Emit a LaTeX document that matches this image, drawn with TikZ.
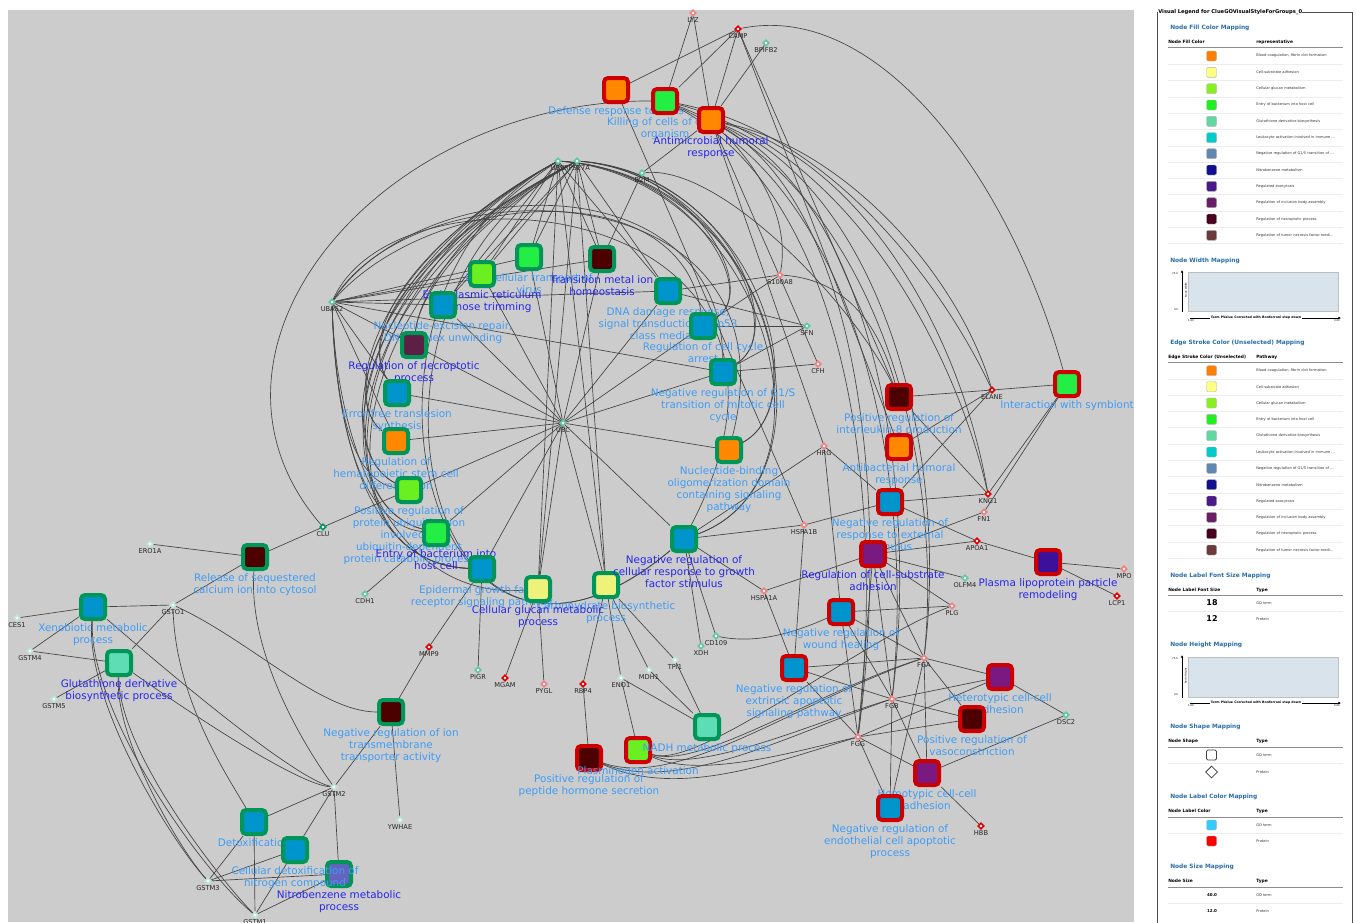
\documentclass[tikz,border=0pt]{standalone}
\usepackage{fontspec}
\setmainfont{DejaVu Sans}
\usetikzlibrary{shapes.geometric,arrows.meta}
\definecolor{bgc}{HTML}{CCCCCC}
\definecolor{edgec}{HTML}{444444}
\definecolor{gob}{HTML}{00965A}
\definecolor{gor}{HTML}{CC0000}
\definecolor{lblue}{HTML}{3F9CF5}
\definecolor{dblue}{HTML}{2626EE}
\definecolor{cOr}{HTML}{FF8800}
\definecolor{cGr}{HTML}{22EE44}
\definecolor{cLi}{HTML}{6AF020}
\definecolor{cDr}{HTML}{4D0000}
\definecolor{cBl}{HTML}{0094CC}
\definecolor{cNe}{HTML}{5E1F45}
\definecolor{cYe}{HTML}{EEF27A}
\definecolor{cPu}{HTML}{7A1A80}
\definecolor{cPl}{HTML}{3C1199}
\definecolor{cMi}{HTML}{5EDDB5}
\definecolor{cNb}{HTML}{6464BE}
\definecolor{pG}{HTML}{5FC8A0}
\definecolor{pW}{HTML}{BFE6D6}
\definecolor{pR}{HTML}{DD0000}
\definecolor{pP}{HTML}{F08080}
\definecolor{pD}{HTML}{009966}
\definecolor{legt}{HTML}{2A6EAA}
\definecolor{chartc}{HTML}{D9E3EC}
\definecolor{lc1}{HTML}{FF8000}
\definecolor{lc2}{HTML}{FFFF80}
\definecolor{lc3}{HTML}{88F020}
\definecolor{lc4}{HTML}{20F020}
\definecolor{lc5}{HTML}{60D8A0}
\definecolor{lc6}{HTML}{00CCCC}
\definecolor{lc7}{HTML}{6088B0}
\definecolor{lc8}{HTML}{101090}
\definecolor{lc9}{HTML}{4B1A88}
\definecolor{lc10}{HTML}{6A1E66}
\definecolor{lc11}{HTML}{4A0020}
\definecolor{lc12}{HTML}{6B3A3A}
\definecolor{lcgo}{HTML}{33CCFF}
\definecolor{lcpr}{HTML}{FF0000}

\pgfdeclarelayer{bg}\pgfdeclarelayer{edges}
\pgfsetlayers{bg,edges,main}

\tikzset{
 gobox/.style={rectangle,rounded corners=3pt,minimum size=18pt,line width=3pt,inner sep=0pt},
 golab/.style={anchor=north,inner sep=0pt,align=center,font=\fontsize{7.8}{9}\selectfont,execute at begin node=\strut},
 pnode/.style={diamond,aspect=1,minimum size=4.6pt,inner sep=0pt,line width=1.2pt,fill=white},
 plab/.style={anchor=north,inner sep=0pt,font=\fontsize{5}{6}\selectfont,text=black!85,execute at begin node=\strut},
 lnk/.style={draw=edgec,line width=0.5pt},
 lsec/.style={anchor=west,inner sep=0pt,text=legt,font=\bfseries\fontsize{4.4}{5}\selectfont},
 lhead/.style={anchor=west,inner sep=0pt,font=\bfseries\fontsize{3.3}{4}\selectfont},
 lrow/.style={anchor=west,inner sep=0pt,text=black!80,font=\fontsize{2.7}{3}\selectfont},
 lsw/.style={rectangle,rounded corners=1pt,minimum size=7.5pt,inner sep=0pt,draw=black!30,line width=0.3pt},
 ltiny/.style={inner sep=0pt,font=\fontsize{1.9}{2}\selectfont},
}
\newcommand\goN[7]{\node[gobox,fill=#4,draw=#5] (#1) at (#2,#3) {}; \node[golab,text=#6] (#1-l) at (#2,#3+16) {#7};}
\newcommand\prN[5]{\node[pnode,draw=#4] (#1) at (#2,#3) {}; \node[plab] (#1-l) at (#2,#3+4) {#5};}

\begin{document}
\begin{tikzpicture}[x=0.75pt,y=-0.75pt]
\useasboundingbox (0,0) rectangle (1356,922);
\begin{pgfonlayer}{bg}
\fill[white] (0,0) rectangle (1356,922);
\fill[bgc] (8,10) rectangle (1134,922);
\end{pgfonlayer}

% ---------------- proteins
\prN{LYZ}{693}{13}{pP}{LYZ}
\prN{CAMP}{738}{29}{pR}{CAMP}
\prN{BPIFB2}{766}{43}{pG}{BPIFB2}
\prN{UBB}{558}{161}{pG}{UBB}
\prN{RPS27A}{577}{161}{pG}{RPS27A}
\prN{B2M}{642}{173}{pG}{B2M}
\prN{S100A8}{780}{275}{pP}{S100A8}
\prN{UBA52}{332}{302}{pG}{UBA52}
\prN{SFN}{807}{326}{pG}{SFN}
\prN{CFH}{818}{364}{pP}{CFH}
\prN{UBC}{563}{423}{pG}{UBC}
\prN{ELANE}{992}{390}{pR}{ELANE}
\prN{HRG}{824}{446}{pP}{HRG}
\prN{KNG1}{988}{494}{pR}{KNG1}
\prN{FN1}{984}{512}{pP}{FN1}
\prN{HSPA1B}{804}{525}{pP}{HSPA1B}
\prN{CLU}{323}{527}{pD}{CLU}
\prN{APOA1}{977}{541}{pR}{APOA1}
\prN{ERO1A}{150}{544}{pW}{ERO1A}
\prN{OLFM4}{965}{578}{pG}{OLFM4}
\prN{MPO}{1124}{569}{pP}{MPO}
\prN{HSPA1A}{764}{591}{pP}{HSPA1A}
\prN{GSTO1}{173}{605}{pW}{GSTO1}
\prN{CDH1}{365}{594}{pG}{CDH1}
\prN{LCP1}{1117}{596}{pR}{LCP1}
\prN{CES1}{17}{618}{pW}{CES1}
\prN{PLG}{952}{606}{pP}{PLG}
\prN{GSTM4}{30}{651}{pW}{GSTM4}
\prN{MMP9}{429}{647}{pR}{MMP9}
\prN{CD109}{716}{636}{pG}{CD109}
\prN{XDH}{701}{646}{pG}{XDH}
\prN{TPI1}{675}{660}{pW}{TPI1}
\prN{FGA}{924}{658}{pP}{FGA}
\prN{PIGR}{478}{670}{pG}{PIGR}
\prN{MGAM}{505}{678}{pR}{MGAM}
\prN{PYGL}{544}{684}{pP}{PYGL}
\prN{RBP4}{583}{684}{pR}{RBP4}
\prN{ENO1}{621}{678}{pW}{ENO1}
\prN{MDH1}{649}{670}{pW}{MDH1}
\prN{GSTM5}{54}{699}{pW}{GSTM5}
\prN{FGB}{892}{699}{pP}{FGB}
\prN{DSC2}{1066}{715}{pG}{DSC2}
\prN{FGG}{858}{737}{pP}{FGG}
\prN{GSTM2}{334}{787}{pW}{GSTM2}
\prN{YWHAE}{400}{820}{pW}{YWHAE}
\prN{HBB}{981}{826}{pR}{HBB}
\prN{GSTM3}{208}{881}{pW}{GSTM3}
\prN{GSTM1}{255}{915}{pW}{GSTM1}

% ---------------- GO terms
\goN{dvir}{616}{90}{cOr}{gor}{lblue}{Defense response to virus}
\goN{kill}{665}{101}{cGr}{gor}{lblue}{Killing of cells of other\\organism}
\goN{amic}{711}{120}{cOr}{gor}{dblue}{Antimicrobial humoral\\response}
\goN{itv}{529}{257}{cGr}{gob}{lblue}{Intracellular transport of\\virus}
\goN{tmi}{602}{259}{cDr}{gob}{dblue}{Transition metal ion\\homeostasis}
\goN{erm}{482}{274}{cLi}{gob}{dblue}{Endoplasmic reticulum\\mannose trimming}
\goN{ner}{443}{305}{cBl}{gob}{lblue}{Nucleotide-excision repair,\\DNA duplex unwinding}
\goN{necr}{414}{345}{cNe}{gob}{dblue}{Regulation of necroptotic\\process}
\goN{eft}{397}{393}{cBl}{gob}{lblue}{Error-free translesion\\synthesis}
\goN{hsc}{396}{441}{cOr}{gob}{lblue}{Regulation of\\hematopoietic stem cell\\differentiation}
\goN{pup}{409}{490}{cLi}{gob}{lblue}{Positive regulation of\\protein ubiquitination\\involved in\\ubiquitin-dependent\\protein catabolic process}
\goN{ebac}{436}{533}{cGr}{gob}{dblue}{Entry of bacterium into\\host cell}
\goN{egf}{482}{569}{cBl}{gob}{lblue}{Epidermal growth factor\\receptor signaling pathway}
\goN{cbp}{606}{585}{cYe}{gob}{lblue}{Carbohydrate biosynthetic\\process}
\goN{cgm}{538}{589}{cYe}{gob}{dblue}{Cellular glucan metabolic\\process}
\goN{dna}{668}{291}{cBl}{gob}{lblue}{DNA damage response,\\signal transduction by p53\\class mediator}
\goN{cca}{703}{326}{cBl}{gob}{lblue}{Regulation of cell cycle\\arrest}
\goN{gs}{723}{372}{cBl}{gob}{lblue}{Negative regulation of G1/S\\transition of mitotic cell\\cycle}
\goN{nod}{729}{450}{cOr}{gob}{lblue}{Nucleotide-binding\\oligomerization domain\\containing signaling\\pathway}
\goN{ngf}{684}{539}{cBl}{gob}{dblue}{Negative regulation of\\cellular response to growth\\factor stimulus}
\goN{il8}{899}{397}{cDr}{gor}{lblue}{Positive regulation of\\interleukin-8 production}
\goN{abh}{899}{447}{cOr}{gor}{lblue}{Antibacterial humoral\\response}
\goN{nre}{890}{502}{cBl}{gor}{lblue}{Negative regulation of\\response to external\\stimulus}
\goN{csa}{873}{554}{cPu}{gor}{dblue}{Regulation of cell-substrate\\adhesion}
\goN{sym}{1067}{384}{cGr}{gor}{lblue}{Interaction with symbiont}
\goN{plp}{1048}{562}{cPl}{gor}{dblue}{Plasma lipoprotein particle\\remodeling}
\goN{nwh}{841}{612}{cBl}{gor}{lblue}{Negative regulation of\\wound healing}
\goN{nea}{794}{668}{cBl}{gor}{lblue}{Negative regulation of\\extrinsic apoptotic\\signaling pathway}
\goN{hta}{1000}{677}{cPu}{gor}{lblue}{Heterotypic cell-cell\\adhesion}
\goN{vaso}{972}{719}{cDr}{gor}{lblue}{Positive regulation of\\vasoconstriction}
\goN{hoa}{927}{773}{cPu}{gor}{lblue}{Homotypic cell-cell\\adhesion}
\goN{nec}{890}{808}{cBl}{gor}{lblue}{Negative regulation of\\endothelial cell apoptotic\\process}
\goN{pep}{589}{758}{cDr}{gor}{lblue}{Positive regulation of\\peptide hormone secretion}
\goN{pla}{638}{750}{cLi}{gor}{lblue}{Plasminogen activation}
\goN{nadh}{707}{727}{cMi}{gob}{lblue}{NADH metabolic process}
\goN{nit}{391}{712}{cDr}{gob}{lblue}{Negative regulation of ion\\transmembrane\\transporter activity}
\goN{rsc}{255}{557}{cDr}{gob}{lblue}{Release of sequestered\\calcium ion into cytosol}
\goN{xen}{93}{607}{cBl}{gob}{lblue}{Xenobiotic metabolic\\process}
\goN{glu}{119}{663}{cMi}{gob}{dblue}{Glutathione derivative\\biosynthetic process}
\goN{detox}{254}{822}{cBl}{gob}{lblue}{Detoxification}
\goN{nbz}{339}{874}{cNb}{gob}{dblue}{Nitrobenzene metabolic\\process}
\goN{cdn}{295}{850}{cBl}{gob}{lblue}{Cellular detoxification of\\nitrogen compound}

% ---------------- edges
\begin{pgfonlayer}{edges}
% straight edges
\foreach \a/\b in {LYZ/kill,LYZ/amic,CAMP/dvir,CAMP/kill,CAMP/amic,BPIFB2/amic,B2M/amic,B2M/tmi,
  CAMP/il8,CAMP/abh,amic/HRG,amic/CFH,dvir/HSPA1B,
  UBB/itv,UBB/erm,UBB/tmi,UBB/ner,UBB/dna,UBB/cgm,UBB/cbp,
  RPS27A/itv,RPS27A/erm,RPS27A/tmi,RPS27A/ner,RPS27A/dna,RPS27A/cgm,RPS27A/cbp,
  UBA52/erm,UBA52/ner,UBA52/necr,UBA52/eft,UBA52/hsc,UBA52/itv,UBA52/tmi,UBA52/dna,UBA52/gs,
  SFN/dna,SFN/cca,SFN/gs,CFH/gs,S100A8/dna,S100A8/cca,
  ELANE/il8,ELANE/sym,ELANE/abh,ELANE/nre,KNG1/il8,KNG1/nre,KNG1/sym,FN1/csa,FN1/sym,
  APOA1/nre,APOA1/csa,APOA1/plp,OLFM4/csa,MPO/plp,LCP1/plp,PLG/csa,PLG/nwh,
  HRG/nre,HRG/nwh,HRG/ngf,HSPA1B/nea,HSPA1B/ngf,HSPA1B/nre,HSPA1A/nea,HSPA1A/ngf,HSPA1A/csa,
  CD109/ngf,XDH/ngf,
  FGA/nwh,FGA/nea,FGA/hta,FGA/vaso,FGA/hoa,FGA/nec,FGA/csa,
  FGB/nwh,FGB/nea,FGB/hta,FGB/vaso,FGB/hoa,FGB/nec,FGB/csa,
  FGG/nwh,FGG/nea,FGG/hta,FGG/vaso,FGG/hoa,FGG/nec,FGG/csa,
  DSC2/hta,DSC2/hoa,HBB/hoa,
  MMP9/nit,MMP9/egf,CDH1/ebac,PIGR/egf,MGAM/cgm,PYGL/cgm,RBP4/cbp,RBP4/pep,
  ENO1/cbp,ENO1/pla,ENO1/nadh,MDH1/cbp,MDH1/nadh,TPI1/cbp,TPI1/nadh,
  CLU/rsc,CLU/pup,ERO1A/rsc,GSTO1/rsc,GSTO1/xen,GSTO1/glu,CES1/xen,GSTM4/xen,GSTM4/glu,GSTM5/glu,
  GSTM2/detox,GSTM2/cdn,GSTM2/nbz,GSTM2/nit,GSTM3/detox,GSTM3/cdn,GSTM3/nbz,
  GSTM1/detox,GSTM1/cdn,GSTM1/nbz,YWHAE/nit}
  \draw[lnk] (\a) -- (\b);
\foreach \b in {itv,erm,tmi,ner,necr,eft,hsc,pup,ebac,egf,cgm,cbp,dna,cca,gs,nod,ngf}
  \draw[lnk] (UBC) -- (\b);
% hub bundles to the left
\foreach \h/\d in {UBB/0,RPS27A/5}{
  \draw[lnk] (\h) .. controls (470+\d,220) and (420,290) .. (necr);
  \draw[lnk] (\h) .. controls (400+\d,250) and (360,340) .. (eft);
  \draw[lnk] (\h) .. controls (370+\d,262) and (340,400) .. (hsc);
  \draw[lnk] (\h) .. controls (352+\d,272) and (330,450) .. (pup);
  \draw[lnk] (\h) .. controls (342+\d,280) and (320,500) .. (ebac);
  \draw[lnk] (\h) .. controls (336+\d,285) and (310,560) .. (egf);
  \draw[lnk] (\h) .. controls (320+\d,290) and (420,760) .. (ngf);
  \draw[lnk] (\h) .. controls (690+\d,170) and (760,290) .. (cca);
  \draw[lnk] (\h) .. controls (720+\d,172) and (790,330) .. (gs);
  \draw[lnk] (\h) .. controls (750+\d,176) and (820,400) .. (nod);
  \draw[lnk] (\h) .. controls (770+\d,180) and (845,480) .. (ngf);
}
% UBA52 curves
\draw[lnk] (UBA52) .. controls (335,400) and (350,480) .. (pup);
\draw[lnk] (UBA52) .. controls (335,420) and (360,525) .. (ebac);
\draw[lnk] (UBA52) .. controls (336,440) and (370,565) .. (egf);
\draw[lnk] (UBA52) .. controls (337,460) and (400,600) .. (cgm);
\draw[lnk] (UBA52) .. controls (430,190) and (680,170) .. (cca);
\draw[lnk] (UBA52) .. controls (420,170) and (720,160) .. (gs);
\draw[lnk] (UBA52) .. controls (420,160) and (800,170) .. (nod);
\draw[lnk] (UBA52) .. controls (400,150) and (860,200) .. (ngf);
% top curves
\draw[lnk] (CAMP) .. controls (880,0) and (1010,180) .. (sym);
\draw[lnk] (kill) .. controls (380,100) and (170,350) .. (CLU);
\draw[lnk] (amic) .. controls (850,150) and (960,280) .. (ELANE);
\draw[lnk] (kill) .. controls (840,135) and (950,300) .. (ELANE);
\draw[lnk] (amic) .. controls (860,160) and (960,330) .. (KNG1);
\draw[lnk] (kill) .. controls (850,150) and (955,350) .. (KNG1);
\draw[lnk] (amic) .. controls (880,190) and (950,450) .. (FGA);
\draw[lnk] (amic) .. controls (870,200) and (920,480) .. (FGB);
\draw[lnk] (amic) .. controls (860,210) and (890,500) .. (FGG);
\draw[lnk] (kill) .. controls (870,180) and (945,450) .. (FGA);
\draw[lnk] (kill) .. controls (860,190) and (915,480) .. (FGB);
\draw[lnk] (kill) .. controls (850,200) and (885,500) .. (FGG);
\draw[lnk] (amic) .. controls (760,170) and (790,220) .. (S100A8);
\draw[lnk] (B2M) .. controls (720,165) and (850,300) .. (il8);
\draw[lnk] (S100A8) .. controls (850,280) and (880,330) .. (il8);
% bottom curves
\draw[lnk] (FGA) .. controls (820,690) and (700,770) .. (pla);
\draw[lnk] (FGB) .. controls (820,720) and (700,775) .. (pla);
\draw[lnk] (FGG) .. controls (800,750) and (700,780) .. (pla);
\draw[lnk] (FGA) .. controls (800,700) and (680,790) .. (pep);
\draw[lnk] (FGB) .. controls (800,730) and (680,795) .. (pep);
\draw[lnk] (FGG) .. controls (780,760) and (680,800) .. (pep);
\draw[lnk] (PLG) .. controls (860,640) and (700,770) .. (pla);
\draw[lnk] (CD109) .. controls (760,645) and (800,630) .. (nwh);
\draw[lnk] (GSTO1) .. controls (175,700) and (230,780) .. (detox);
\draw[lnk] (GSTO1) .. controls (250,640) and (320,712) .. (nit);
\draw[lnk] (xen) .. controls (85,700) and (170,840) .. (GSTM3);
\draw[lnk] (xen) .. controls (88,710) and (200,870) .. (GSTM1);
\draw[lnk] (glu) .. controls (115,740) and (180,850) .. (GSTM3);
\draw[lnk] (glu) .. controls (118,750) and (220,880) .. (GSTM1);
\draw[lnk] (xen) .. controls (200,700) and (300,780) .. (GSTM2);
\draw[lnk] (glu) .. controls (200,720) and (300,785) .. (GSTM2);
\draw[lnk] (rsc) .. controls (248,650) and (300,740) .. (GSTM2);
\end{pgfonlayer}

% ---------------- legend
\node[anchor=west,inner sep=0pt,font=\bfseries\fontsize{3.9}{4}\selectfont] (lgtitle) at (1158,12) {Visual Legend for ClueGOVisualStyleForGroups\_0};
\draw[black!70,line width=0.5pt] (1157,930) -- (1157,12) -- (lgtitle.west);
\draw[black!70,line width=0.5pt] (lgtitle.east) -- (1352,12) -- (1352,930);

\node[lsec] (s1) at (1170,28) {Node Fill Color Mapping};
\node[lhead] (h1a) at (1168,42) {Node Fill Color};
\node[lhead] (h1b) at (1256,42) {representative};
\draw[black!45,line width=0.6pt] (1168,47) -- (1343,47);
\foreach \i/\y/\txt in {1/56/{Blood coagulation, fibrin clot formation},2/72.3/{Cell-substrate adhesion},3/88.7/{Cellular glucan metabolism},4/105/{Entry of bacterium into host cell},5/121.3/{Glutathione derivative biosynthesis},6/137.7/{Leukocyte activation involved in immune ...},7/153.7/{Negative regulation of G1/S transition of ...},8/170/{Nitrobenzene metabolism},9/186.3/{Regulated exocytosis},10/202.7/{Regulation of inclusion body assembly},11/219/{Regulation of necroptotic process},12/235.3/{Regulation of tumor necrosis factor-medi...}}{
  \node[lsw,fill=lc\i] (fs\i) at (1211.5,\y) {};
  \node[lrow] (ft\i) at (1256,\y) {\txt};
  \draw[black!7,line width=0.4pt] (1168,\y+8.1) -- (1343,\y+8.1);
}

\node[lsec] (s2) at (1170,261) {Node Width Mapping};
\draw[fill=chartc,draw=black!25,line width=0.3pt] (1188,272) rectangle (1338,311);
\draw[line width=0.4pt,-{Latex[length=2pt,width=2pt]}] (1182,312) -- (1182,270);
\node[ltiny] (w1) at (1175,274) {75.0};
\node[ltiny] (w2) at (1176,310) {0.0};
\node[ltiny,rotate=90] (w3) at (1186,290) {Node Width};
\draw[line width=0.4pt,-{Latex[length=2pt,width=2pt]}] (1190,318) -- (1341,318);
\node[inner sep=0.5pt,fill=white,font=\bfseries\fontsize{2.4}{3}\selectfont] (w4) at (1256,318) {Term PValue Corrected with Bonferroni step down};
\node[ltiny] (w5) at (1191,321) {1.00};
\node[ltiny] (w6) at (1337,321) {0.00};

\node[lsec] (s3) at (1170,343) {Edge Stroke Color (Unselected) Mapping};
\node[lhead] (h3a) at (1168,357) {Edge Stroke Color (Unselected)};
\node[lhead] (h3b) at (1256,357) {Pathway};
\draw[black!45,line width=0.6pt] (1168,362) -- (1343,362);
\foreach \i/\y/\txt in {1/370.7/{Blood coagulation, fibrin clot formation},2/386.7/{Cell-substrate adhesion},3/403/{Cellular glucan metabolism},4/419.3/{Entry of bacterium into host cell},5/435.7/{Glutathione derivative biosynthesis},6/452/{Leukocyte activation involved in immune ...},7/468.3/{Negative regulation of G1/S transition of ...},8/484.7/{Nitrobenzene metabolism},9/501/{Regulated exocytosis},10/517.3/{Regulation of inclusion body assembly},11/533.7/{Regulation of necroptotic process},12/550/{Regulation of tumor necrosis factor-medi...}}{
  \node[lsw,fill=lc\i] (es\i) at (1211.5,\y) {};
  \node[lrow] (et\i) at (1256,\y) {\txt};
  \draw[black!7,line width=0.4pt] (1168,\y+8.1) -- (1343,\y+8.1);
}

\node[lsec] (s4) at (1170,576) {Node Label Font Size Mapping};
\node[lhead] (h4a) at (1168,590) {Node Label Font Size};
\node[lhead] (h4b) at (1256,590) {Type};
\draw[black!45,line width=0.6pt] (1168,595) -- (1343,595);
\node[inner sep=0pt,font=\bfseries\fontsize{6}{7}\selectfont] (f18) at (1212,603) {18};
\node[lrow] (f18t) at (1256,603) {GO term};
\draw[black!7,line width=0.4pt] (1168,611) -- (1343,611);
\node[inner sep=0pt,font=\bfseries\fontsize{6}{7}\selectfont] (f12) at (1212,619) {12};
\node[lrow] (f12t) at (1256,619) {Protein};

\node[lsec] (s5) at (1170,645) {Node Height Mapping};
\draw[fill=chartc,draw=black!25,line width=0.3pt] (1188,657) rectangle (1338,697);
\draw[line width=0.4pt,-{Latex[length=2pt,width=2pt]}] (1182,698) -- (1182,655);
\node[ltiny] (g1) at (1175,659) {75.0};
\node[ltiny] (g2) at (1176,695) {0.0};
\node[ltiny,rotate=90] (g3) at (1186,676) {Node Height};
\draw[line width=0.4pt,-{Latex[length=2pt,width=2pt]}] (1190,703) -- (1341,703);
\node[inner sep=0.5pt,fill=white,font=\bfseries\fontsize{2.4}{3}\selectfont] (g4) at (1256,703) {Term PValue Corrected with Bonferroni step down};
\node[ltiny] (g5) at (1191,706) {1.00};
\node[ltiny] (g6) at (1337,706) {0.00};

\node[lsec] (s6) at (1170,727) {Node Shape Mapping};
\node[lhead] (h6a) at (1168,741) {Node Shape};
\node[lhead] (h6b) at (1256,741) {Type};
\draw[black!45,line width=0.6pt] (1168,747) -- (1343,747);
\node[rectangle,rounded corners=1pt,minimum size=7.5pt,draw=black!75,line width=0.6pt] (shsq) at (1211.5,755) {};
\node[lrow] (shsqt) at (1256,755) {GO term};
\draw[black!7,line width=0.4pt] (1168,763) -- (1343,763);
\node[diamond,aspect=1,minimum size=9pt,inner sep=0pt,draw=black!75,line width=0.6pt] (shdi) at (1211.5,772) {};
\node[lrow] (shdit) at (1256,772) {Protein};

\node[lsec] (s7) at (1170,797) {Node Label Color Mapping};
\node[lhead] (h7a) at (1168,811) {Node Label Color};
\node[lhead] (h7b) at (1256,811) {Type};
\draw[black!45,line width=0.6pt] (1168,817) -- (1343,817);
\node[lsw,fill=lcgo] (lcs1) at (1211.5,825) {};
\node[lrow] (lct1) at (1256,825) {GO term};
\draw[black!7,line width=0.4pt] (1168,833) -- (1343,833);
\node[lsw,fill=lcpr] (lcs2) at (1211.5,841) {};
\node[lrow] (lct2) at (1256,841) {Protein};

\node[lsec] (s8) at (1170,867) {Node Size Mapping};
\node[lhead] (h8a) at (1168,881) {Node Size};
\node[lhead] (h8b) at (1256,881) {Type};
\draw[black!45,line width=0.6pt] (1168,887) -- (1343,887);
\node[inner sep=0pt,font=\bfseries\fontsize{3}{4}\selectfont] (ns1) at (1212,895) {40.0};
\node[lrow] (ns1t) at (1256,895) {GO term};
\draw[black!7,line width=0.4pt] (1168,903) -- (1343,903);
\node[inner sep=0pt,font=\bfseries\fontsize{3}{4}\selectfont] (ns2) at (1212,911) {12.0};
\node[lrow] (ns2t) at (1256,911) {Protein};
\end{tikzpicture}
\end{document}
